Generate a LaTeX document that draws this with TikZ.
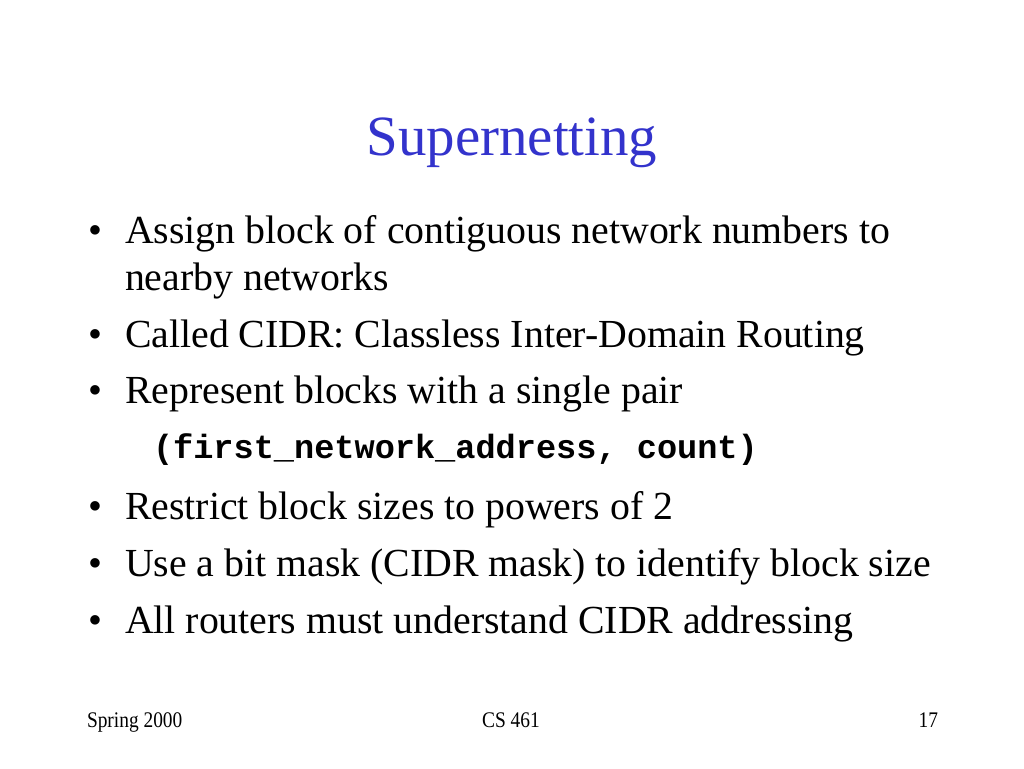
\documentclass[tikz,border=0pt]{standalone}
\usepackage{fontspec}
\setmainfont{Liberation Serif}
\setmonofont{Liberation Mono}
\begin{document}
\begin{tikzpicture}[x=1pt,y=-1pt,
  every node/.style={inner sep=0pt,outer sep=0pt},
  body/.style={anchor=base west,font=\fontsize{39.8}{44}\selectfont},
  bul/.style={anchor=base,font=\fontsize{39.8}{44}\selectfont},
  code/.style={anchor=base west,font=\fontsize{33.6}{38}\selectfont\ttfamily\bfseries},
  foot/.style={font=\fontsize{19.4}{22}\selectfont,yscale=1.15}]
\definecolor{titleblue}{RGB}{51,51,204}
\useasboundingbox[fill=white] (0,0) rectangle (1024,768);
\node[anchor=base,font=\fontsize{56.9}{62}\selectfont,text=titleblue] (title) at (512,155) {Supernetting};
\node[bul] (b1) at (95,243) {•};
\node[body] (t1) at (125,243) {Assign block of contiguous network numbers to};
\node[body] (t1b) at (125,290) {nearby networks};
\node[bul] (b2) at (95,347) {•};
\node[body] (t2) at (125,347) {Called CIDR: Classless Inter-Domain Routing};
\node[bul] (b3) at (95,403) {•};
\node[body] (t3) at (125,403) {Represent blocks with a single pair};
\node[code] (c3) at (153,458) {(first\_network\_address, count)};
\node[bul] (b4) at (95,519) {•};
\node[body] (t4) at (125,519) {Restrict block sizes to powers of 2};
\node[bul] (b5) at (95,576) {•};
\node[body] (t5) at (125,576) {Use a bit mask (CIDR mask) to identify block size};
\node[bul] (b6) at (95,633) {•};
\node[body] (t6) at (125,633) {All routers must understand CIDR addressing};
\node[foot,anchor=base west] (f1) at (87,727) {Spring 2000};
\node[foot,anchor=base] (f2) at (511,727) {CS 461};
\node[foot,anchor=base east] (f3) at (938,727) {17};
\end{tikzpicture}
\end{document}
